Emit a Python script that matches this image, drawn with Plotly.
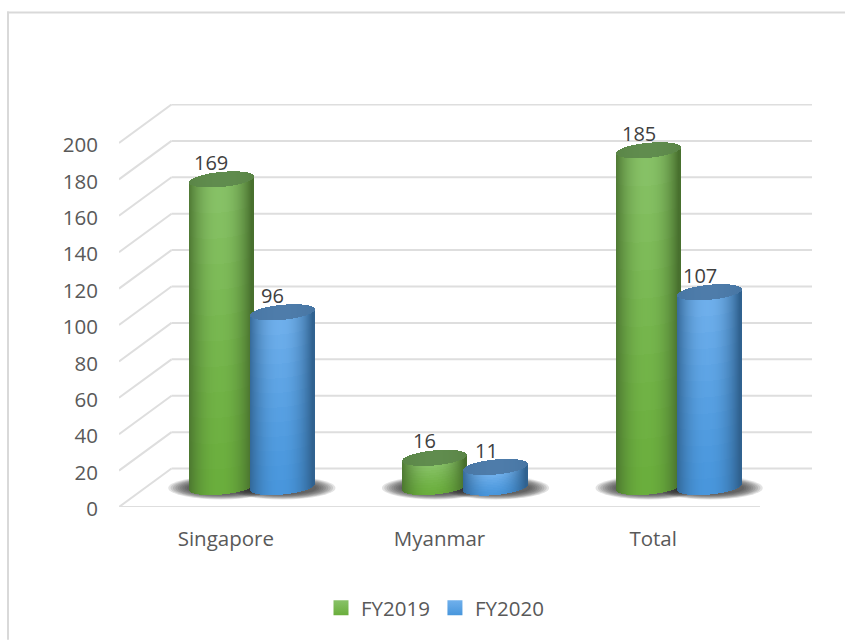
import numpy as np
import plotly.graph_objects as go

categories = ["Singapore", "Myanmar", "Total"]
fy2019 = [169, 16, 185]
fy2020 = [96, 11, 107]
y_ticks = [0, 20, 40, 60, 80, 100, 120, 140, 160, 180, 200]
series_names = ["FY2019", "FY2020"]

# plot-area geometry (pixels)
W, H = 845, 640
L, R, T, B = 119.0, 812.0, 103.5, 507.0
CAT_PX = 641.0 / 3
UNIT_PX = 364.5 / 200
X_MAX = (R - L) / CAT_PX
Y_MAX = (B - T) / UNIT_PX
DEPTH_X = 52.5 / CAT_PX        # 3-D wall offset
DEPTH_Y = 38.5 / UNIT_PX
FLOOR = 20.0 / UNIT_PX         # where the cylinders stand
SHIFT = 26.0 / CAT_PX          # group shift in depth
OFFSET = 30.6 / CAT_PX         # series offset from group centre
A = 32.0 / CAT_PX              # cylinder half width
EB = 7.5 / UNIT_PX             # ellipse half height
EK = 3.0 / UNIT_PX             # ellipse tilt
N_STRIP = 64
N_SEG = 12

GREEN = dict(top=(136, 194, 104), bot=(106, 174, 60), edge=(72, 112, 46), cap=(96, 140, 78))
BLUE = dict(top=(112, 176, 236), bot=(72, 150, 220), edge=(48, 98, 144), cap=(78, 124, 170))


def mix(a, b, t):
    return tuple(a[i] + (b[i] - a[i]) * t for i in range(3))


def rgb(c):
    return "rgb(%d,%d,%d)" % tuple(int(round(v)) for v in c)


def cylinder(values, side, pal):
    bx, bw, bb, by, bc = [], [], [], [], []
    cx, cw, cb, cy, cc = [], [], [], [], []
    edges = np.linspace(-1, 1, N_STRIP + 1)
    us = (edges[:-1] + edges[1:]) / 2
    sw = 2 * A / N_STRIP * 1.25
    for i, v in enumerate(values):
        centre = i + 0.5 + SHIFT + side * OFFSET
        for u in us:
            root = np.sqrt(max(1 - u * u, 0))
            front = FLOOR + EK * u - EB * root
            shade = abs(u + 0.05) ** 2.2
            for s in range(N_SEG):
                t = (s + 0.5) / N_SEG
                col = mix(mix(pal["bot"], pal["top"], t ** 1.3), pal["edge"], min(shade, 1))
                bx.append(centre + u * A)
                bw.append(sw)
                bb.append(front + v * s / N_SEG)
                by.append(v / N_SEG)
                bc.append(rgb(col))
            cx.append(centre + u * A)
            cw.append(sw)
            cb.append(front + v)
            cy.append(2 * EB * root)
            cc.append(rgb(mix(pal["cap"], (pal["edge"]), 0.25 * abs(u) ** 2)))
    common = dict(marker_line_width=0, showlegend=False, hoverinfo="skip")
    return [
        go.Bar(x=bx, y=by, base=bb, width=bw, marker_color=bc, **common),
        go.Bar(x=cx, y=cy, base=cb, width=cw, marker_color=cc, **common),
    ]


fig = go.Figure()
for tr in cylinder(fy2019, -1, GREEN):
    fig.add_trace(tr)
for tr in cylinder(fy2020, 1, BLUE):
    fig.add_trace(tr)

for name, pal in zip(series_names, (GREEN, BLUE)):
    fig.add_trace(go.Scatter(
        x=[None], y=[None], mode="markers", name=name, hoverinfo="skip",
        marker=dict(symbol="square", size=15, color=rgb(pal["top"]),
                    gradient=dict(type="vertical", color=rgb(pal["bot"])),
                    line_width=0),
    ))

shapes = []
GRID = "#dedede"
for v in y_ticks:
    shapes.append(dict(type="line", xref="x", yref="y", layer="below",
                       x0=0, y0=v, x1=DEPTH_X, y1=v + DEPTH_Y,
                       line=dict(color=GRID, width=2)))
    shapes.append(dict(type="line", xref="x", yref="y", layer="below",
                       x0=DEPTH_X, y0=v + DEPTH_Y, x1=3 + DEPTH_X, y1=v + DEPTH_Y,
                       line=dict(color=GRID, width=2)))
shapes.append(dict(type="line", xref="x", yref="y", layer="below",
                   x0=0, y0=0, x1=3, y1=0, line=dict(color=GRID, width=2)))

# soft floor shadows
for i in range(len(categories)):
    for side in (-1, 1):
        centre = i + 0.5 + SHIFT + side * OFFSET
        for k in range(9):
            f = 1 - k / 9
            a = A + (21 * f) / CAT_PX
            b = (6 + 5.5 * f) / UNIT_PX
            shapes.append(dict(type="circle", xref="x", yref="y", layer="below",
                               x0=centre - a, x1=centre + a,
                               y0=FLOOR - b - 0.5, y1=FLOOR + b - 0.5,
                               fillcolor="rgba(40,40,40,0.13)", line_width=0))


def px(x):
    return (x - L) / (R - L)


def py(y):
    return (B - y) / (B - T)


# chart frame (top and left only reach the window edge)
shapes.append(dict(type="line", xref="paper", yref="paper", x0=px(7), x1=px(845), y0=py(12), y1=py(12),
                   line=dict(color="#d9d9d9", width=2)))
shapes.append(dict(type="line", xref="paper", yref="paper", x0=px(8), x1=px(8), y0=py(11), y1=py(640),
                   line=dict(color="#d9d9d9", width=2)))

annotations = []
for vals, side in ((fy2019, -1), (fy2020, 1)):
    for i, v in enumerate(vals):
        annotations.append(dict(
            x=i + 0.5 + SHIFT + side * OFFSET - 10 / CAT_PX,
            y=v + FLOOR + 17 / UNIT_PX,
            text=str(v), showarrow=False, xanchor="center", yanchor="middle",
            font=dict(size=20, color="#404040", family="Open Sans"),
        ))

fig.update_layout(
    width=W, height=H, autosize=False,
    margin=dict(l=L, r=W - R, t=T, b=H - B, pad=0),
    paper_bgcolor="white", plot_bgcolor="white",
    barmode="overlay", bargap=0,
    font=dict(family="Open Sans", size=20.5, color="#595959"),
    shapes=shapes, annotations=annotations,
    xaxis=dict(range=[0, X_MAX], tickmode="array",
               tickvals=[i + 0.5 for i in range(len(categories))], ticktext=categories,
               showgrid=False, zeroline=False, showline=False, ticks="",
               ticklabelstandoff=17, tickfont=dict(size=20.5, color="#595959")),
    yaxis=dict(range=[0, Y_MAX], tickmode="array", tickvals=y_ticks,
               ticktext=[str(v) for v in y_ticks],
               showgrid=False, zeroline=False, showline=False, ticks="",
               ticklabelstandoff=20, ticklabelshift=2, tickfont=dict(size=20.5, color="#595959")),
    legend=dict(orientation="h", xanchor="center", yanchor="middle",
                x=px(435), y=py(608), font=dict(size=20.5, color="#595959"),
                bgcolor="rgba(0,0,0,0)"),
)

fig.write_html("out.html", post_script="document.body.style.margin='0';",
               config=dict(displayModeBar=False))
